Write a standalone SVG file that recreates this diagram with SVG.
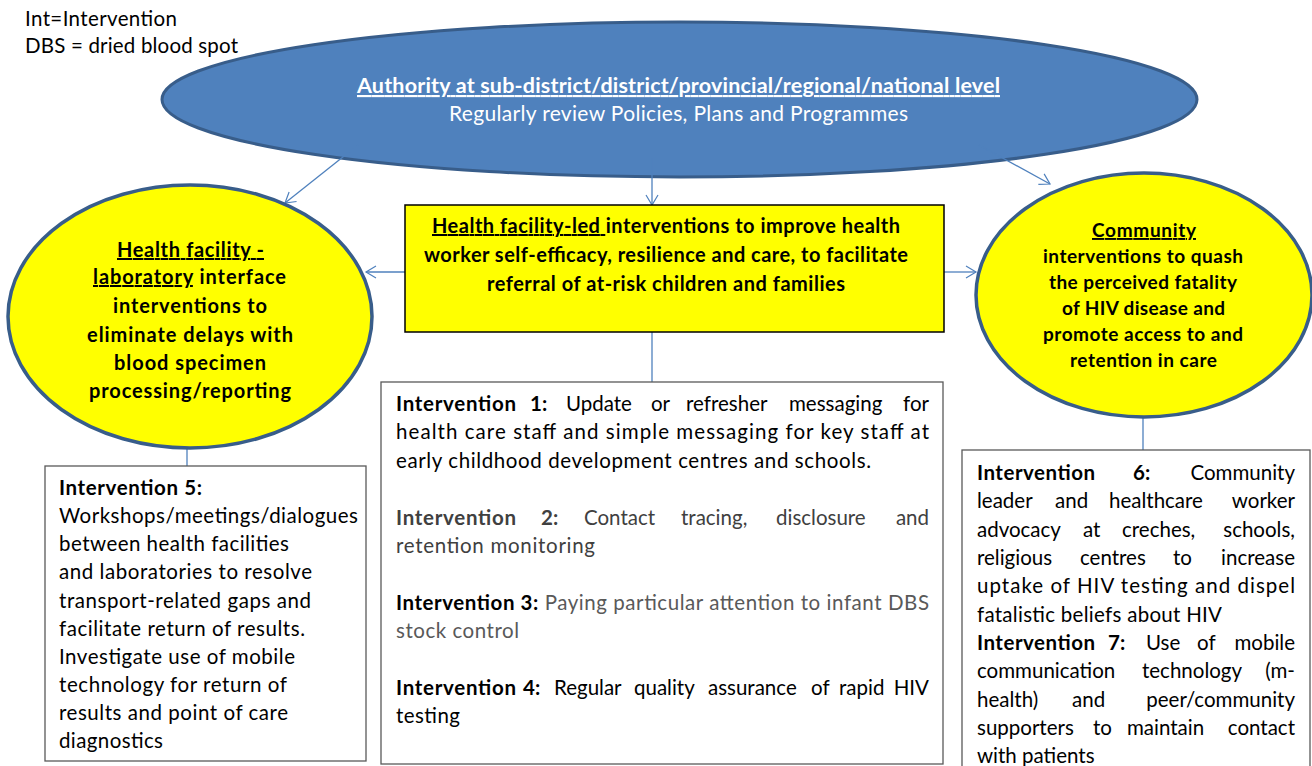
<svg xmlns="http://www.w3.org/2000/svg" width="1312" height="766" viewBox="0 0 1312 766">
<defs>
<marker id="arr" markerUnits="userSpaceOnUse" markerWidth="14" markerHeight="14" refX="11" refY="7" orient="auto">
<path d="M1,1 L11,7 L1,13" fill="none" stroke="#4F81BD" stroke-width="1.2"/>
</marker>
<style>
text{font-family:Lato,"Open Sans","Liberation Sans",sans-serif;font-size:20.5px;fill:#000}
.b{font-weight:bold}
.w{fill:#fff}
.u{text-decoration:underline}
.g4{fill:#404040}
.g5{fill:#595959}
.el{font-size:20px}
.sm{font-size:19px}
.con{stroke:#4F81BD;stroke-width:1.3;fill:none}
.box{fill:#fff;stroke:#595959;stroke-width:1.3}
.yel{fill:#FFFF00;stroke:#385D8A;stroke-width:3.5}
</style>
</defs>
<rect width="1312" height="766" fill="#fff"/>

<g id="legend">
<text x="25" y="26" textLength="152">Int=Intervention</text>
<text x="25" y="53" textLength="213">DBS = dried blood spot</text>
</g>

<g id="authority">
<ellipse cx="679.5" cy="99.5" rx="517.5" ry="77.5" fill="#4F81BD" stroke="#385D8A" stroke-width="3"/>
<text x="357" y="93" class="b w u" style="font-size:21.5px" textLength="643">Authority at sub-district/district/provincial/regional/national level</text>
<text x="449" y="121" class="w" style="font-size:21px" textLength="459">Regularly review Policies, Plans and Programmes</text>
</g>

<g id="connectors">
<line class="con" x1="358" y1="145" x2="285" y2="203" marker-end="url(#arr)"/>
<line class="con" x1="652" y1="158" x2="652" y2="205" marker-end="url(#arr)"/>
<line class="con" x1="979" y1="145" x2="1050" y2="184" marker-end="url(#arr)"/>
<line class="con" x1="405" y1="272" x2="366" y2="272" marker-end="url(#arr)"/>
<line class="con" x1="944" y1="272" x2="976" y2="272" marker-end="url(#arr)"/>
<line class="con" x1="652" y1="332" x2="652" y2="382"/>
<line class="con" x1="187" y1="448" x2="187" y2="466"/>
<line class="con" x1="1143" y1="417" x2="1143" y2="450"/>
</g>

<g id="facility-led">
<rect x="405" y="205" width="539" height="127" fill="#FFFF00" stroke="#000" stroke-width="1.5"/>
<text x="432" y="233" class="b el" textLength="468"><tspan class="u">Health facility-led </tspan>interventions to improve health</text>
<text x="424" y="262" class="b el" textLength="484">worker self-efficacy, resilience and care, to facilitate</text>
<text x="487" y="291" class="b el" textLength="358">referral of at-risk children and families</text>
</g>

<g id="lab-interface">
<ellipse cx="190" cy="316.5" rx="182" ry="131.5" class="yel"/>
<text x="117" y="257" class="b u el" textLength="147">Health facility -</text>
<text x="93" y="284" class="b el" textLength="193"><tspan class="u">laboratory</tspan> interface</text>
<text x="113" y="313" class="b el" textLength="154">interventions to</text>
<text x="87" y="342" class="b el" textLength="206">eliminate delays with</text>
<text x="114" y="370" class="b el" textLength="152">blood specimen</text>
<text x="89" y="398" class="b el" textLength="202">processing/reporting</text>
</g>

<g id="community">
<ellipse cx="1144" cy="295" rx="168" ry="122" class="yel"/>
<text x="1092" y="237" class="b u sm" textLength="104">Community</text>
<text x="1043" y="263" class="b sm" textLength="200">interventions to quash</text>
<text x="1049" y="289" class="b sm" textLength="188">the perceived fatality</text>
<text x="1062" y="315" class="b sm" textLength="163">of HIV disease and</text>
<text x="1043" y="341" class="b sm" textLength="200">promote access to and</text>
<text x="1070" y="367" class="b sm" textLength="147">retention in care</text>
</g>

<g id="interventions-1-4">
<rect x="381" y="382" width="562" height="382" class="box"/>
<text x="396" y="411" class="b" textLength="120">Intervention</text>
<text y="411"><tspan x="530" class="b">1:</tspan><tspan x="566">Update</tspan><tspan x="651">or</tspan><tspan x="686">refresher</tspan><tspan x="789">messaging</tspan></text>
<text x="929" y="411" text-anchor="end">for</text>
<text x="396" y="439" textLength="533">health care staff and simple messaging for key staff at</text>
<text x="396" y="468" textLength="475">early childhood development centres and schools.</text>
<text x="396" y="525" class="b g4" textLength="120">Intervention</text>
<text y="525" class="g4"><tspan x="541" class="b g4">2:</tspan><tspan x="584">Contact</tspan><tspan x="681">tracing,</tspan><tspan x="776">disclosure</tspan></text>
<text x="929" y="525" text-anchor="end" class="g4">and</text>
<text x="396" y="553" class="g4" textLength="199">retention monitoring</text>
<text x="396" y="610" textLength="533"><tspan class="b">Intervention 3:</tspan><tspan class="g5"> Paying particular attention to infant DBS</tspan></text>
<text x="396" y="638" class="g5" textLength="123">stock control</text>
<text x="396" y="695" class="b" textLength="120">Intervention</text>
<text y="695"><tspan x="523" class="b">4:</tspan><tspan x="554">Regular</tspan><tspan x="634">quality</tspan><tspan x="708">assurance</tspan><tspan x="811">of</tspan><tspan x="839">rapid</tspan></text>
<text x="929" y="695" text-anchor="end">HIV</text>
<text x="396" y="723" textLength="64">testing</text>
</g>

<g id="intervention-5">
<rect x="45" y="466" width="321" height="295" class="box"/>
<text x="59" y="495" class="b" textLength="143">Intervention 5:</text>
<text x="59" y="523" textLength="299">Workshops/meetings/dialogues</text>
<text x="59" y="551" textLength="230">between health facilities</text>
<text x="59" y="579" textLength="253">and laboratories to resolve</text>
<text x="59" y="608" textLength="252">transport-related gaps and</text>
<text x="59" y="636" textLength="246">facilitate return of results.</text>
<text x="59" y="664" textLength="236">Investigate use of mobile</text>
<text x="59" y="692" textLength="228">technology for return of</text>
<text x="59" y="720" textLength="229">results and point of care</text>
<text x="59" y="748" textLength="104">diagnostics</text>
</g>

<g id="interventions-6-7">
<rect x="962" y="450" width="348" height="330" class="box"/>
<text x="977" y="480" class="b" textLength="118">Intervention</text>
<text x="1133" y="480" class="b">6:</text>
<text x="1295" y="480" text-anchor="end">Community</text>
<text y="508"><tspan x="977">leader</tspan><tspan x="1055">and</tspan><tspan x="1109">healthcare</tspan></text>
<text x="1295" y="508" text-anchor="end">worker</text>
<text y="537"><tspan x="977">advocacy</tspan><tspan x="1083">at</tspan><tspan x="1122">creches,</tspan></text>
<text x="1295" y="537" text-anchor="end">schools,</text>
<text y="565"><tspan x="977">religious</tspan><tspan x="1080">centres</tspan><tspan x="1173">to</tspan></text>
<text x="1295" y="565" text-anchor="end">increase</text>
<text x="977" y="593" textLength="318">uptake of HIV testing and dispel</text>
<text x="977" y="622" textLength="245">fatalistic beliefs about HIV</text>
<text x="977" y="650" class="b" textLength="118">Intervention</text>
<text y="650"><tspan x="1108" class="b">7:</tspan><tspan x="1146">Use</tspan><tspan x="1197">of</tspan></text>
<text x="1295" y="650" text-anchor="end">mobile</text>
<text y="678"><tspan x="977">communication</tspan><tspan x="1142">technology</tspan></text>
<text x="1295" y="678" text-anchor="end">(m-</text>
<text y="707"><tspan x="977">health)</tspan><tspan x="1072">and</tspan></text>
<text x="1295" y="707" text-anchor="end">peer/community</text>
<text y="735"><tspan x="977">supporters</tspan><tspan x="1093">to</tspan><tspan x="1127">maintain</tspan></text>
<text x="1295" y="735" text-anchor="end">contact</text>
<text x="977" y="763">with patients</text>
</g>
</svg>
